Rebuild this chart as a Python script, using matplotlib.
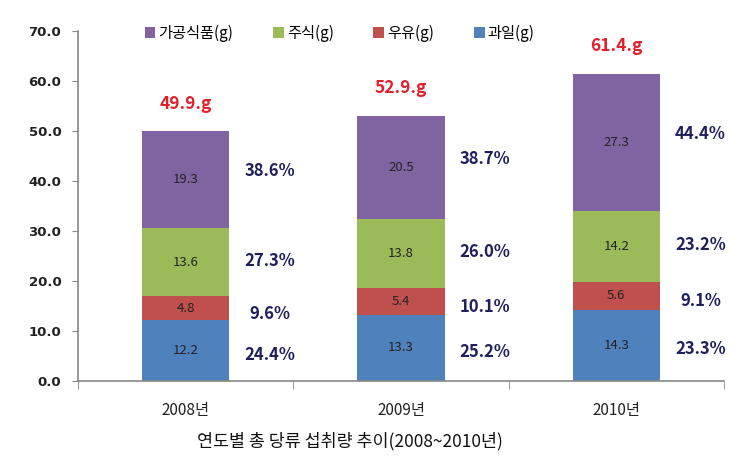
import matplotlib
matplotlib.use("Agg")
import matplotlib.pyplot as plt
from matplotlib.patches import Patch
import numpy as np

plt.rcParams['font.family'] = ['Noto Sans CJK KR', 'DejaVu Sans']

years = ["2008년", "2009년", "2010년"]
series_names = ["과일(g)", "우유(g)", "주식(g)", "가공식품(g)"]
fruit = [12.2, 13.3, 14.3]
milk = [4.8, 5.4, 5.6]
staple = [13.6, 13.8, 14.2]
processed = [19.3, 20.5, 27.3]
fruit_pct = ["24.4%", "25.2%", "23.3%"]
milk_pct = ["9.6%", "10.1%", "9.1%"]
staple_pct = ["27.3%", "26.0%", "23.2%"]
processed_pct = ["38.6%", "38.7%", "44.4%"]
totals = ["49.9.g", "52.9.g", "61.4.g"]
title = "연도별 총 당류 섭취량 추이(2008~2010년)"

colors = ["#4F81BD", "#C0504D", "#9BBB59", "#8064A2"]
pct_offsets = [-3, -4, 1, 6]  # points, label nudges per series
values = [fruit, milk, staple, processed]
pcts = [fruit_pct, milk_pct, staple_pct, processed_pct]

fig = plt.figure(figsize=(7.48, 4.69), dpi=100)
ax = fig.add_axes([78/748, 1-381/469, (724-78)/748, 350/469])

x = np.arange(len(years))
bottom = np.zeros(len(years))
for vals, col, pc, off in zip(values, colors, pcts, pct_offsets):
    vals = np.array(vals)
    ax.bar(x, vals, width=0.405, bottom=bottom, color=col, edgecolor='none', zorder=2)
    for i in range(len(x)):
        ax.text(x[i], bottom[i] + vals[i] / 2, f"{vals[i]:.1f}", ha='center', va='center',
                fontsize=9.5, color='#222222', zorder=3)
        ax.annotate(pc[i], (x[i] + 0.39, bottom[i] + vals[i] / 2), xytext=(0, off),
                    textcoords='offset points', ha='center', va='center',
                    fontsize=12, fontweight='bold', color='#1F1F5C', zorder=3)
    bottom = bottom + vals

for i in range(len(x)):
    ax.annotate(totals[i], (x[i], bottom[i]), xytext=(0, 20), textcoords='offset points',
                ha='center', va='center', fontsize=12.5, fontweight='bold', color='#E0202A')

ax.set_xlim(-0.5, 2.5)
ax.set_ylim(0, 70)
ax.set_yticks(np.arange(0, 71, 10))
ax.set_yticklabels([f"{v:.1f}" for v in np.arange(0, 71, 10)], fontsize=9.5, fontweight='bold',
                   color='#222222', family=['DejaVu Sans'])
ax.set_xticks(x)
ax.set_xticklabels(years, fontsize=11, color='#222222')
ax.set_xticks([-0.5, 0.5, 1.5, 2.5], minor=True)
ax.tick_params(axis='x', which='major', length=0, pad=15)
ax.tick_params(axis='x', which='minor', length=6, color='#888888', direction='out')
ax.tick_params(axis='y', length=4, color='#888888', direction='out', pad=8)
for s in ['top', 'right']:
    ax.spines[s].set_visible(False)
for s in ['left', 'bottom']:
    ax.spines[s].set_color('#888888')
    ax.spines[s].set_linewidth(1.2)

handles = [Patch(facecolor=colors[i], edgecolor='none') for i in [3, 2, 1, 0]]
labels = [series_names[i] for i in [3, 2, 1, 0]]
ax.legend(handles, labels, loc='center', bbox_to_anchor=(0.405, 0.994), ncol=4,
          frameon=False, fontsize=11, handlelength=0.7, handleheight=0.7,
          handletextpad=0.2, columnspacing=2.6)

fig.text(350/748, 1-441/469, title, ha='center', va='center', fontsize=12.5, color='#111111')

fig.savefig("out.png", dpi=100)
